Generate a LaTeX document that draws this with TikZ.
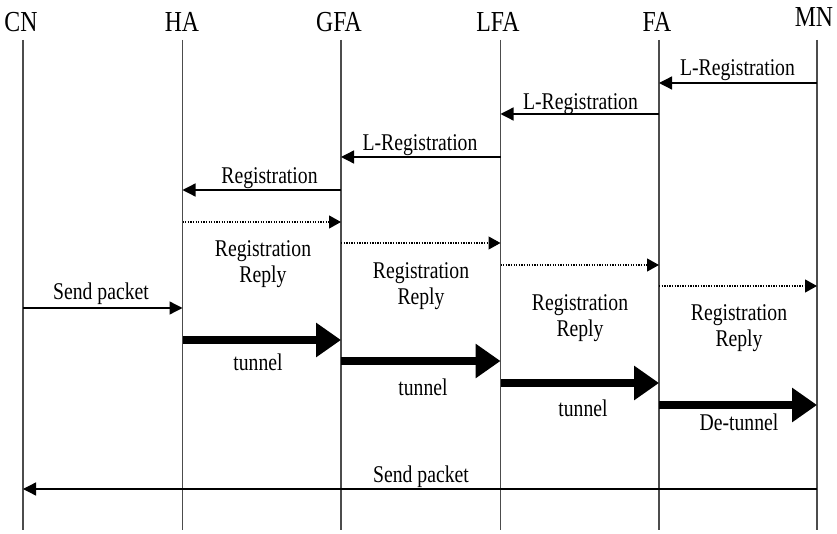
\documentclass[tikz,border=0pt]{standalone}
\usepackage{fontspec}
\setmainfont{Liberation Serif}[FakeStretch=0.82]
\usetikzlibrary{arrows.meta}
\begin{document}
\begin{tikzpicture}[x=1pt,y=-1pt,
  actor/.style={font=\fontsize{29}{30}\selectfont, anchor=base, inner sep=0pt},
  lbl/.style={font=\fontsize{24}{26}\selectfont, anchor=base, inner sep=0pt},
  lbltwo/.style={font=\fontsize{24}{26}\selectfont, align=center, inner sep=0pt},
  life/.style={draw=black!70, line width=1.2pt},
  msg/.style={line width=1.3pt, -{Triangle[length=13pt,width=13pt]}},
  reply/.style={line width=1.2pt, dash pattern=on 1.3pt off 1.3pt,
                -{Triangle[length=12pt,width=13pt]}},
  tun/.style={line width=8pt, -{Triangle[length=25pt,width=33pt]}}]
\useasboundingbox (0,0) rectangle (837,534);

% participants
\node[actor] (cn)  at (21,32)  {CN};
\node[actor] (ha)  at (182,32) {HA};
\node[actor] (gfa) at (339,32) {GFA};
\node[actor] (lfa) at (498,32) {LFA};
\node[actor] (fa)  at (657,32) {FA};
\node[actor] (mn)  at (814,27) {MN};

% lifeline ends
\coordinate (tCN)  at (23,40);    \coordinate (bCN)  at (23,530);
\coordinate (tHA)  at (182.5,40); \coordinate (bHA)  at (182.5,530);
\coordinate (tGFA) at (341,40);   \coordinate (bGFA) at (341,530);
\coordinate (tLFA) at (500.5,40); \coordinate (bLFA) at (500.5,530);
\coordinate (tFA)  at (659,40);   \coordinate (bFA)  at (659,530);
\coordinate (tMN)  at (817,40);   \coordinate (bMN)  at (817,530);

\foreach \p in {CN,HA,GFA,LFA,FA,MN}
  \draw[life] (t\p) -- (b\p);

% message rows
\coordinate (r1) at (0,83);
\coordinate (r2) at (0,114);
\coordinate (r3) at (0,157);
\coordinate (r4) at (0,190);
\coordinate (r5) at (0,222);
\coordinate (r6) at (0,243);
\coordinate (r7) at (0,265);
\coordinate (r8) at (0,286);
\coordinate (r9) at (0,308);
\coordinate (r10) at (0,340);
\coordinate (r11) at (0,361);
\coordinate (r12) at (0,383);
\coordinate (r13) at (0,405);
\coordinate (r14) at (0,489);

% registration requests
\draw[msg] (tMN |- r1) -- (tFA |- r1);
\draw[msg] (tFA |- r2) -- (tLFA |- r2);
\draw[msg] (tLFA |- r3) -- (tGFA |- r3);
\draw[msg] (tGFA |- r4) -- (tHA |- r4);
\node[lbl] (l1) at (737.5,76) {L-Registration};
\node[lbl] (l2) at (580.5,110) {L-Registration};
\node[lbl] (l3) at (420,151) {L-Registration};
\node[lbl] (l4) at (269.5,184) {Registration};

% registration replies
\draw[reply] (tHA |- r5) -- (tGFA |- r5);
\draw[reply] (tGFA |- r6) -- (tLFA |- r6);
\draw[reply] (tLFA |- r7) -- (tFA |- r7);
\draw[reply] (tFA |- r8) -- (tMN |- r8);
\node[lbltwo] (rr1) at (263,264.5) {Registration\\Reply};
\node[lbltwo] (rr2) at (421,286.5) {Registration\\Reply};
\node[lbltwo] (rr3) at (580,318.5) {Registration\\Reply};
\node[lbltwo] (rr4) at (739,328.5) {Registration\\Reply};

% data path
\draw[msg] (tCN |- r9) -- (tHA |- r9);
\node[lbl] (sp1) at (101,300) {Send packet};

\draw[tun] (tHA |- r10) -- (tGFA |- r10);
\draw[tun] (tGFA |- r11) -- (tLFA |- r11);
\draw[tun] (tLFA |- r12) -- (tFA |- r12);
\draw[tun] (tFA |- r13) -- (tMN |- r13);
\node[lbl] (tn1) at (258,370) {tunnel};
\node[lbl] (tn2) at (423,395) {tunnel};
\node[lbl] (tn3) at (583,416) {tunnel};
\node[lbl] (tn4) at (739,430) {De-tunnel};

\draw[msg] (tMN |- r14) -- (tCN |- r14);
\node[lbl] (sp2) at (421,482) {Send packet};
\end{tikzpicture}
\end{document}
